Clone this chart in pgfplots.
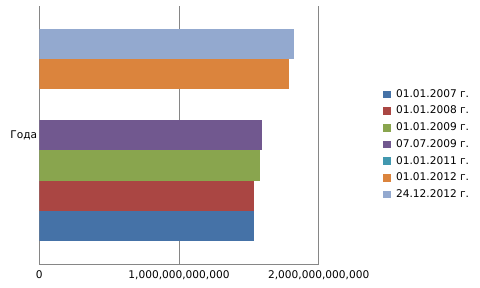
\documentclass[border=0pt]{standalone}
\usepackage{pgfplots}
\pgfplotsset{compat=1.18}
\usepackage{fontspec}
\setmainfont{DejaVu Sans}
\definecolor{c1}{HTML}{4572A7}
\definecolor{c2}{HTML}{AA4643}
\definecolor{c3}{HTML}{89A54E}
\definecolor{c4}{HTML}{71588F}
\definecolor{c5}{HTML}{4198AF}
\definecolor{c6}{HTML}{DB843D}
\definecolor{c7}{HTML}{93A9CF}
\definecolor{gridc}{HTML}{868686}
\begin{document}
\begin{tikzpicture}
\begin{axis}[
  scale only axis,
  width=279.4bp, height=258bp,
  xmin=0, xmax=2e12,
  ymin=-0.5, ymax=0.5,
  xbar, bar width=0.1176,
  axis x line*=bottom, axis y line*=left,
  y axis line style={draw=none},
  x axis line style={draw=gridc, line width=0.8pt},
  xmajorgrids, grid style={draw=gridc, line width=0.8pt},
  xtick={0,1e12,2e12},
  xticklabels={0,{1,000,000,000,000},{2,000,000,000,000}},
  scaled x ticks=false,
  ytick={0}, yticklabels={Года},
  major tick length=0pt,
  tick label style={font=\fontsize{10.6bp}{12bp}\selectfont, text=black},
  xticklabel style={yshift=-3bp},
  yticklabel style={inner sep=2bp},
  legend style={at={(1.219,0.463)}, anchor=west, draw=none, fill=none,
    font=\fontsize{10.6bp}{12bp}\selectfont, row sep=5.1bp,
    nodes={inner sep=1bp, text height=7.6bp, text depth=2bp},
    /tikz/every odd column/.append style={column sep=4.5bp}},
  legend cell align=left,
  legend image code/.code={\fill[#1] (0bp,-3.7bp) rectangle (7.5bp,3.8bp);},
]
\addplot[fill=c1, draw=none, bar shift=-0.3528] coordinates {(1.537e12,0)};
\addplot[fill=c2, draw=none, bar shift=-0.2352] coordinates {(1.537e12,0)};
\addplot[fill=c3, draw=none, bar shift=-0.1176] coordinates {(1.580e12,0)};
\addplot[fill=c4, draw=none, bar shift=0] coordinates {(1.594e12,0)};
\addplot[fill=c5, draw=none, bar shift=0.1176] coordinates {(0,0)};
\addplot[fill=c6, draw=none, bar shift=0.2352] coordinates {(1.785e12,0)};
\addplot[fill=c7, draw=none, bar shift=0.3528] coordinates {(1.823e12,0)};
\legend{01.01.2007 г.,01.01.2008 г.,01.01.2009 г.,07.07.2009 г.,01.01.2011 г.,01.01.2012 г.,24.12.2012 г.}
\end{axis}
\pgfresetboundingbox
\path (current axis.south west) ++(-39.3bp,-24bp) rectangle ++(480bp,288bp);
\end{tikzpicture}
\end{document}
